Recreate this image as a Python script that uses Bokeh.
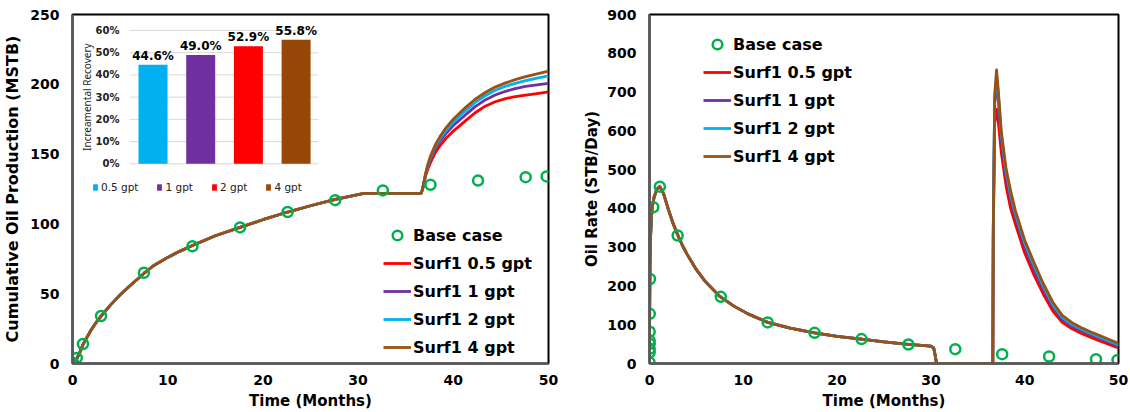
import math
from bokeh.plotting import figure
from bokeh.layouts import row
from bokeh.models import Range1d, Legend, LegendItem
from bokeh.core.properties import value
from bokeh.embed import file_html
from bokeh.resources import INLINE

# ---------------- data ----------------
series_labels = ["Surf1 0.5 gpt", "Surf1 1 gpt", "Surf1 2 gpt", "Surf1 4 gpt"]
series_colors = ["#FF0000", "#7030A0", "#00B0F0", "#9A5212"]
base_label = "Base case"
base_color = "#00B050"

x_ticks = [0, 10, 20, 30, 40, 50]
cum_ticks = [0, 50, 100, 150, 200, 250]
rate_ticks = [0, 100, 200, 300, 400, 500, 600, 700, 800, 900]

# Cumulative oil production (MSTB) - base case markers
base_cum_t = [0, 0.1, 0.45, 1.1, 3.0, 7.5, 12.6, 17.6, 22.6, 27.6, 32.6, 37.6, 42.6, 47.6, 49.8]
base_cum = [0, 0.3, 4, 14, 34, 65, 84, 97.5, 108.5, 117, 124, 128, 131, 133.5, 134]

# Cumulative - common part of all Surf1 curves (before treatment)
pre_cum_t = [0, 0.1, 0.3, 0.5, 0.8, 1.1, 1.5, 2.0, 2.5, 3.0, 4.0, 5.0, 6.0, 7.5, 8.5,
             10.0, 11.3, 12.6, 15.0, 17.6, 20.0, 22.6, 25.0, 27.6, 30.0, 30.6, 36.6]
pre_cum = [0, 0.2, 1.5, 4, 8.5, 13.5, 18.5, 24.5, 29.5, 34, 42, 49, 55.5, 64.5, 70,
           76, 80.5, 84.5, 91.5, 97.5, 103, 108.5, 113, 117.5, 121, 121.8, 121.8]

# Cumulative - after treatment, per series
eor_cum_t = [36.6, 36.75, 36.9, 37.08, 37.3, 37.6, 38.1, 38.6, 39.2, 40.0, 41.3, 42.3,
             43.4, 44.4, 45.5, 46.5, 47.6, 48.8, 50.0]
eor_cum_05 = [121.8, 124.2, 128.5, 134, 138.8, 143.8, 151, 156, 161, 166.5, 174, 179.6,
              184.5, 187.5, 189.8, 191.2, 192.2, 193.4, 194.5]
eor_cum_1 = [121.8, 124.4, 129, 135, 140.5, 146.3, 154, 159.3, 164.5, 170.5, 178.2, 184,
             189, 192.3, 195, 196.9, 198.5, 199.6, 200.6]
eor_cum_2 = [121.8, 124.5, 129.3, 135.5, 141.5, 147.5, 155.5, 161, 166.5, 173, 181, 187,
             192, 195.7, 198.6, 200.7, 202.6, 204.4, 206]
eor_cum_4 = [121.8, 124.5, 129.5, 135.9, 142, 148.5, 156.5, 162.5, 168.5, 175, 183.5, 189.3,
             194.3, 198, 201, 203.3, 205.5, 207.5, 209.5]

# Oil rate (STB/Day) - base case markers
base_rate_t = [0, 0.02, 0.02, 0.02, 0.02, 0.02, 0.03, 0.05, 0.4, 1.1, 3.0, 7.6, 12.6, 17.6,
               22.6, 27.6, 32.6, 37.6, 42.6, 47.6, 49.9]
base_rate = [3, 29, 38, 51, 59, 82, 128, 218, 403, 456, 330, 172, 106, 79,
             63, 49, 37, 24, 18, 11, 9]

# Oil rate - common part of all Surf1 curves
pre_rate_t = [0, 0.02, 0.05, 0.1, 0.2, 0.3, 0.5, 0.8, 1.1, 1.5, 2.0, 2.5, 3.0, 3.5, 4.0,
              5.0, 6.0, 7.5, 9.0, 10.5, 12.6, 15.0, 17.6, 20.0, 22.6, 25.0, 27.6, 29.0,
              30.0, 30.3, 30.45, 30.6, 36.6]
pre_rate = [0, 150, 250, 320, 375, 405, 430, 450, 456, 438, 398, 362, 332, 305, 282,
            242, 210, 173, 148, 128, 106, 91, 79, 70, 63, 56, 49.5, 46.5,
            45, 40, 22, 0, 0]

# Oil rate - after treatment, per series
eor_rate_t = [36.6, 36.65, 36.8, 37.0, 37.2, 37.5, 38.0, 38.5, 39.0, 40.0, 41.0, 42.0,
              43.0, 44.0, 45.0, 46.0, 47.0, 48.0, 49.0, 50.0]
eor_rate_05 = [0, 320, 620, 655, 620, 545, 460, 400, 360, 285, 228, 178,
               135, 106, 90, 78, 68, 58, 49, 40]
eor_rate_1 = [0, 340, 670, 720, 675, 580, 485, 425, 378, 302, 243, 190,
              146, 114, 97, 85, 75, 65, 55, 44]
eor_rate_2 = [0, 345, 685, 745, 690, 592, 495, 435, 387, 310, 252, 198,
              152, 119, 101, 89, 78, 68, 58, 48]
eor_rate_4 = [0, 350, 690, 757, 700, 600, 505, 445, 395, 318, 260, 205,
              158, 124, 106, 93, 82, 72, 62, 52]

# Inset: incremental recovery
inset_labels = ["0.5 gpt", "1 gpt", "2 gpt", "4 gpt"]
inset_values = [44.6, 49.0, 52.9, 55.8]
inset_colors = ["#00B0F0", "#7030A0", "#FF0000", "#974706"]
inset_ticks = [0, 10, 20, 30, 40, 50, 60]
inset_ylabel = "Increamental Recovery"

eor_cum = [eor_cum_05, eor_cum_1, eor_cum_2, eor_cum_4]
eor_rate = [eor_rate_05, eor_rate_1, eor_rate_2, eor_rate_4]

# ---------------- styling ----------------
FONT = "DejaVu Sans"
H = 412
TOP, BOTTOM = 14, 49


def style(p, ylabel_standoff, ytitle_size):
    p.xgrid.visible = False
    p.ygrid.visible = False
    p.outline_line_color = "black"
    p.outline_line_width = 2
    p.outline_line_alpha = 1
    p.background_fill_color = "white"
    p.border_fill_color = "white"
    for ax in p.axis:
        ax.axis_line_color = "#595959"
        ax.axis_line_width = 2.5
        ax.major_tick_line_color = None
        ax.minor_tick_line_color = None
        ax.major_tick_out = 0
        ax.major_tick_in = 0
        ax.major_label_text_font = FONT
        ax.major_label_text_font_style = "bold"
        ax.major_label_text_font_size = "14px"
        ax.major_label_text_color = "black"
        ax.axis_label_text_font = FONT
        ax.axis_label_text_font_style = "bold"
        ax.axis_label_text_font_size = "15px"
        ax.axis_label_text_color = "black"
    p.yaxis.axis_label_text_font_size = ytitle_size
    p.xaxis.major_label_standoff = 11
    p.xaxis.axis_label_standoff = 4
    p.yaxis.major_label_standoff = 13
    p.yaxis.axis_label_standoff = ylabel_standoff


def main_legend(p, base_r, line_rs, loc):
    items = [LegendItem(label=base_label, renderers=[base_r])]
    items += [LegendItem(label=l, renderers=[r]) for l, r in zip(series_labels, line_rs)]
    leg = Legend(items=items, location=loc, orientation="vertical",
                 glyph_width=28, glyph_height=24, label_height=24, spacing=4,
                 label_standoff=2, padding=0, margin=0,
                 border_line_color=None, background_fill_alpha=0,
                 label_text_font=FONT, label_text_font_style="bold",
                 label_text_font_size="16px", label_text_color="black")
    p.add_layout(leg)


# ---------------- left chart ----------------
LW, LBL, LBR = 580, 72, 32
p1 = figure(width=LW, height=H, x_range=Range1d(0, 50), y_range=Range1d(0, 250),
            output_backend="svg", toolbar_location=None,
            min_border_left=LBL, min_border_right=LBR,
            min_border_top=TOP, min_border_bottom=BOTTOM,
            x_axis_label="Time (Months)", y_axis_label="Cumulative Oil Production (MSTB)")
p1.xaxis.ticker = x_ticks
p1.yaxis.ticker = cum_ticks
style(p1, 5, "16px")

lines1 = []
for ec, col in zip(eor_cum, series_colors):
    r = p1.line(pre_cum_t + eor_cum_t[1:], pre_cum + ec[1:], line_color=col, line_width=2.8,
                line_join="round")
    lines1.append(r)
b1 = p1.scatter(base_cum_t, base_cum, marker="circle", size=10, fill_color=None,
                line_color=base_color, line_width=2.5)
main_legend(p1, b1, lines1, (311, 4))

# inset, drawn in its own ranges inside the left frame
fw, fh = LW - LBL - LBR, H - TOP - BOTTOM
c0, step = 152.5 - LBL, 47.7          # first bar centre (px in frame), bar pitch
y0px, pxper = fh - (163.3 - TOP), 2.222  # 0% position (px from frame bottom), px per %
p1.extra_x_ranges = {"ix": Range1d(-c0 / step, (fw - c0) / step)}
p1.extra_y_ranges = {"iy": Range1d(-y0px / pxper, (fh - y0px) / pxper)}
idx = list(range(len(inset_values)))
gx0, gx1 = (129 - 152.5) / step, (318 - 152.5) / step
p1.segment(x0=[gx0] * len(inset_ticks), x1=[gx1] * len(inset_ticks), y0=inset_ticks,
           y1=inset_ticks, line_color="#D9D9D9", line_width=1,
           x_range_name="ix", y_range_name="iy")
bars = p1.vbar(x=idx, top=inset_values, bottom=0, width=29 / step, fill_color=inset_colors,
               line_color=None, x_range_name="ix", y_range_name="iy")
p1.text(x=idx, y=inset_values, text=[f"{v:.1f}%" for v in inset_values],
        x_range_name="ix", y_range_name="iy", y_offset=-2,
        text_align="center", text_baseline="bottom", text_font=value(FONT),
        text_font_style="bold", text_font_size="12px", text_color="black")
p1.text(x=[(119 - 152.5) / step] * len(inset_ticks), y=inset_ticks,
        text=[f"{t}%" for t in inset_ticks], x_range_name="ix", y_range_name="iy",
        text_align="right", text_baseline="middle", text_font=value(FONT),
        text_font_style="bold", text_font_size="10px", text_color="#222222")
p1.text(x=[(86 - 152.5) / step], y=[inset_ticks[-1] / 2], text=[inset_ylabel],
        x_range_name="ix", y_range_name="iy", angle=math.pi / 2,
        text_align="center", text_baseline="middle", text_font=value("Noto Sans"),
        text_font_size="10px", text_color="#222222")
ileg = Legend(items=[LegendItem(label=l, renderers=[bars], index=i)
                     for i, l in enumerate(inset_labels)],
              location=(92 - LBL, fh - (193 - TOP)), orientation="horizontal",
              glyph_width=6, glyph_height=8, label_height=10, label_standoff=3,
              spacing=18, padding=0, margin=0, border_line_color=None,
              background_fill_alpha=0, label_text_font=FONT,
              label_text_font_size="10.5px", label_text_color="#222222")
p1.add_layout(ileg)

# ---------------- right chart ----------------
RW, RBL, RBR = 550, 69, 12
p2 = figure(width=RW, height=H, x_range=Range1d(0, 50), y_range=Range1d(0, 900),
            output_backend="svg", toolbar_location=None,
            min_border_left=RBL, min_border_right=RBR,
            min_border_top=TOP, min_border_bottom=BOTTOM,
            x_axis_label="Time (Months)", y_axis_label="Oil Rate (STB/Day)")
p2.xaxis.ticker = x_ticks
p2.yaxis.ticker = rate_ticks
style(p2, 3, "15px")

lines2 = []
for er, col in zip(eor_rate, series_colors):
    r = p2.line(pre_rate_t + eor_rate_t[1:], pre_rate + er[1:], line_color=col, line_width=2.8,
                line_join="round")
    lines2.append(r)
b2 = p2.scatter(base_rate_t, base_rate, marker="circle", size=10, fill_color=None,
                line_color=base_color, line_width=2.5)
fh2 = H - TOP - BOTTOM
main_legend(p2, b2, lines2, (703 - (LW + RBL), fh2 - (168 - TOP)))

layout = row(p1, p2)
open("out.html", "w").write(file_html(layout, INLINE))
